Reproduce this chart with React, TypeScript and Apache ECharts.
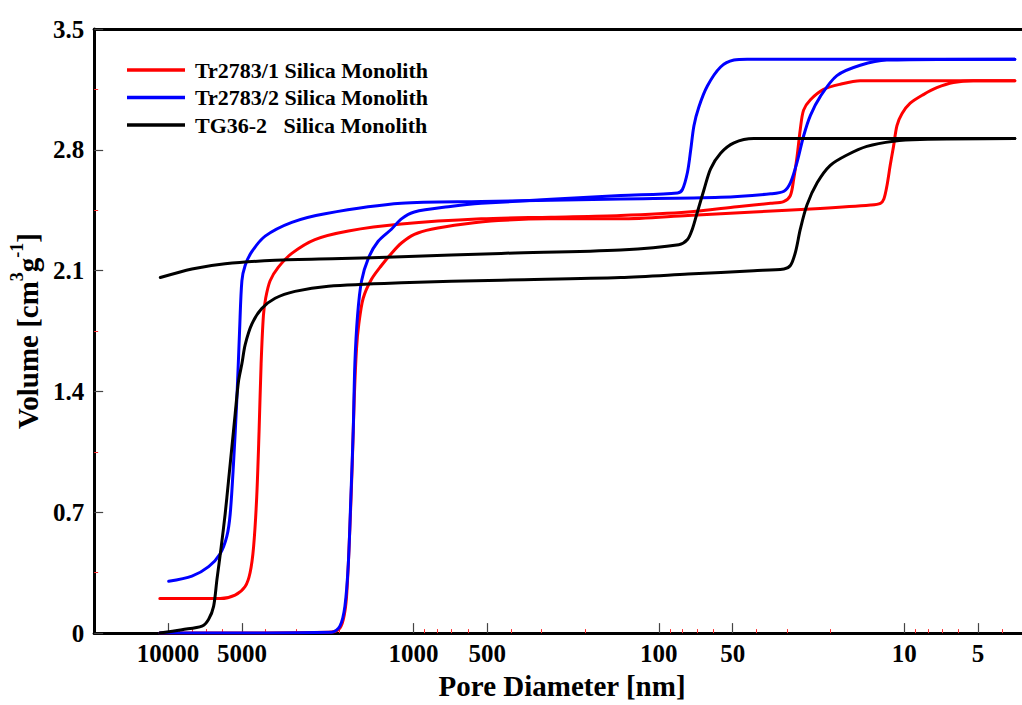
import React, { useEffect, useRef } from "react";
import * as echarts from "echarts";

// Pore diameter limits of the x axis [nm]
const X_LEFT_NM = 20000;
const X_RIGHT_NM = 3.31;

const MAJOR_TICKS = [10000, 5000, 1000, 500, 100, 50, 10, 5];
const MINOR_TICKS = [9000, 8000, 7000, 6000, 4000, 3000, 2000, 900, 800, 700, 600, 400, 300, 200, 90, 80, 70, 60, 40, 30, 20, 9, 8, 7, 6, 4];

const SERIES_NAMES = ["Tr2783/1 Silica Monolith", "Tr2783/2 Silica Monolith", "TG36-2   Silica Monolith"];

// Tr2783/1 (red), two curves
const redA_d = [10800, 7270, 6130, 5330, 4850, 4630, 4480, 4350, 4255, 4175, 4085, 4000, 3840, 3550, 3130, 2520, 1840, 1120, 529, 275, 143, 76, 48, 35, 31, 29.1, 28.2, 27.3, 26.5, 25.7, 24.1, 21.3, 18.2, 15.1, 3.54];
const redA_v = [0.2, 0.2, 0.2, 0.22, 0.27, 0.35, 0.5, 0.79, 1.17, 1.56, 1.84, 1.94, 2.04, 2.12, 2.2, 2.28, 2.33, 2.37, 2.4, 2.41, 2.42, 2.44, 2.47, 2.49, 2.5, 2.535, 2.63, 2.765, 2.92, 3.03, 3.09, 3.15, 3.18, 3.2, 3.2];
const redB_d = [10800, 2220, 2020, 1930, 1873, 1816, 1775, 1742, 1705, 1669, 1602, 1482, 1350, 1229, 1119, 991, 845, 620, 451, 283, 143, 76, 41, 22, 13.7, 12.5, 12.1, 11.76, 11.4, 11.05, 10.7, 10.2, 9.45, 8.35, 7.36, 6.3, 5.23, 3.54];
const redB_v = [0, 0.005, 0.02, 0.08, 0.21, 0.6, 0.98, 1.36, 1.65, 1.79, 1.94, 2.05, 2.13, 2.2, 2.26, 2.31, 2.34, 2.37, 2.39, 2.4, 2.4, 2.42, 2.44, 2.46, 2.48, 2.49, 2.515, 2.59, 2.71, 2.82, 2.94, 3.01, 3.07, 3.12, 3.16, 3.19, 3.2, 3.2];

// Tr2783/2 (blue), two curves
const blueA_d = [9940, 7990, 6830, 6130, 5760, 5580, 5410, 5240, 5110, 5000, 4850, 4555, 4020, 3130, 2290, 1120, 529, 143, 56, 35, 30.9, 29.06, 27.3, 25.7, 24.1, 21.95, 18.8, 15.1, 11.76, 3.54];
const blueA_v = [0.3, 0.33, 0.385, 0.46, 0.56, 0.69, 0.98, 1.36, 1.75, 2.04, 2.13, 2.21, 2.3, 2.38, 2.43, 2.49, 2.5, 2.515, 2.525, 2.545, 2.56, 2.61, 2.73, 2.88, 3.0, 3.11, 3.23, 3.29, 3.32, 3.325];
const blueB_d = [10800, 2150, 1993, 1902, 1842, 1798, 1759, 1732, 1689, 1627, 1528, 1392, 1229, 1119, 991, 720, 529, 143, 83.9, 80.1, 76.4, 74.1, 71.9, 68.6, 63.4, 56.0, 49.4, 43.6, 3.54];
const blueB_v = [0, 0.005, 0.04, 0.155, 0.4, 0.79, 1.17, 1.56, 1.84, 2.04, 2.17, 2.27, 2.34, 2.4, 2.44, 2.47, 2.49, 2.535, 2.55, 2.57, 2.67, 2.8, 2.94, 3.05, 3.17, 3.28, 3.32, 3.325, 3.325];

// TG36-2 (black), two curves
const blackA_d = [10800, 8770, 7270, 6830, 6520, 6320, 6070, 5850, 5670, 5490, 5325, 5160, 5000, 4850, 4555, 4150, 3660, 3040, 2220, 1120, 439, 143, 76, 41, 30.9, 29.06, 27.7, 26.5, 24.9, 22.6, 20.0, 17.1, 14.2, 11.05, 8.61, 3.54];
const blackA_v = [0, 0.02, 0.04, 0.08, 0.155, 0.31, 0.5, 0.69, 0.88, 1.08, 1.27, 1.46, 1.56, 1.67, 1.79, 1.88, 1.94, 1.98, 2.01, 2.03, 2.045, 2.06, 2.08, 2.1, 2.11, 2.13, 2.21, 2.34, 2.48, 2.61, 2.71, 2.77, 2.82, 2.85, 2.86, 2.865];
const blackB_d = [10750, 7990, 5850, 3660, 1960, 1120, 439, 143, 82.9, 76.4, 73.0, 69.6, 65.4, 61.5, 56.0, 49.4, 41.0, 3.54];
const blackB_v = [2.06, 2.11, 2.14, 2.16, 2.17, 2.18, 2.2, 2.22, 2.25, 2.28, 2.34, 2.44, 2.57, 2.69, 2.78, 2.84, 2.865, 2.865];

const FONT = "Liberation Serif";
const lg = (v: number) => Math.log10(v);

function mk(name: string, color: string, d: number[], v: number[], z: number) {
  return {
    type: "line",
    name,
    data: d.map((x, i) => [lg(x), v[i]]),
    showSymbol: false,
    symbol: "none",
    smooth: 0.3,
    lineStyle: { color, width: 3, cap: "round", join: "round" },
    itemStyle: { color },
    z,
  };
}

export default function App() {
  const ref = useRef<HTMLDivElement>(null);
  useEffect(() => {
    const chart = echarts.init(ref.current as HTMLDivElement, null, { renderer: "svg" });
    const xBase = {
      type: "value",
      min: lg(X_RIGHT_NM),
      max: lg(X_LEFT_NM),
      inverse: true,
      splitLine: { show: false },
    };
    chart.setOption({
      animation: false,
      backgroundColor: "#fff",
      grid: { left: 92, top: 29, right: 0, bottom: 68, containLabel: false },
      legend: {
        data: SERIES_NAMES,
        orient: "vertical",
        left: 122,
        top: 54,
        icon: "rect",
        itemWidth: 58,
        itemHeight: 3.5,
        itemGap: 5.5,
        textStyle: { fontFamily: FONT, fontWeight: "bold", fontSize: 22, color: "#000", lineHeight: 22, padding: [0, 0, 0, 5] },
      },
      xAxis: [
        {
          ...xBase,
          position: "bottom",
          name: "Pore Diameter [nm]",
          nameLocation: "middle",
          nameGap: 35,
          nameTextStyle: { fontFamily: FONT, fontWeight: "bold", fontSize: 29, color: "#000", padding: [0, 0, 0, 8] },
          axisLine: { show: true, onZero: false, lineStyle: { color: "#000", width: 3 } },
          axisTick: { show: true, inside: true, length: 10, lineStyle: { color: "#444", width: 1.2 }, customValues: MAJOR_TICKS.map(lg) },
          axisLabel: {
            customValues: MAJOR_TICKS.map(lg),
            formatter: (v: number) => String(Math.round(Math.pow(10, v))),
            fontFamily: FONT,
            fontWeight: "bold",
            fontSize: 25,
            color: "#000",
            margin: 8,
          },
        },
        {
          ...xBase,
          position: "bottom",
          axisLine: { show: false },
          axisTick: { show: true, inside: true, length: 4, lineStyle: { color: "#ff3030", width: 1 }, customValues: MINOR_TICKS.map(lg) },
          axisLabel: { show: false },
        },
        {
          ...xBase,
          position: "top",
          axisLine: { show: true, lineStyle: { color: "#000", width: 3 } },
          axisTick: { show: false },
          axisLabel: { show: false },
        },
      ],
      yAxis: {
        type: "value",
        min: 0,
        max: 3.5,
        interval: 0.7,
        name: "{a|Volume [cm}{s|3}{a|g}{s|-1}{a|]}",
        nameLocation: "middle",
        nameRotate: 90,
        nameGap: 48,
        nameTextStyle: {
          rich: {
            a: { fontFamily: FONT, fontWeight: "bold", fontSize: 29, color: "#000", lineHeight: 34, verticalAlign: "bottom" },
            s: { fontFamily: FONT, fontWeight: "bold", fontSize: 18, color: "#000", lineHeight: 20, verticalAlign: "top" },
          },
        },
        splitLine: { show: false },
        axisLine: { show: true, lineStyle: { color: "#000", width: 3 } },
        axisTick: { show: true, inside: true, length: 9, lineStyle: { color: "#444", width: 1.2 } },
        minorTick: { show: true, splitNumber: 2, length: 4, lineStyle: { color: "#ff3030", width: 1 } },
        minorSplitLine: { show: false },
        axisLabel: {
          formatter: (v: number) => (v === 0 ? "0" : v.toFixed(1)),
          fontFamily: FONT,
          fontWeight: "bold",
          fontSize: 25,
          color: "#000",
          margin: 10,
        },
      },
      series: [
        mk(SERIES_NAMES[0], "#ff0000", redA_d, redA_v, 2),
        mk(SERIES_NAMES[0], "#ff0000", redB_d, redB_v, 2),
        mk(SERIES_NAMES[1], "#0000ff", blueA_d, blueA_v, 3),
        mk(SERIES_NAMES[1], "#0000ff", blueB_d, blueB_v, 3),
        mk(SERIES_NAMES[2], "#000000", blackA_d, blackA_v, 4),
        mk(SERIES_NAMES[2], "#000000", blackB_d, blackB_v, 4),
      ],
    });
    return () => chart.dispose();
  }, []);
  return <div ref={ref} style={{ position: "absolute", left: 0, top: 0, width: 1022, height: 705, background: "#fff" }} />;
}
